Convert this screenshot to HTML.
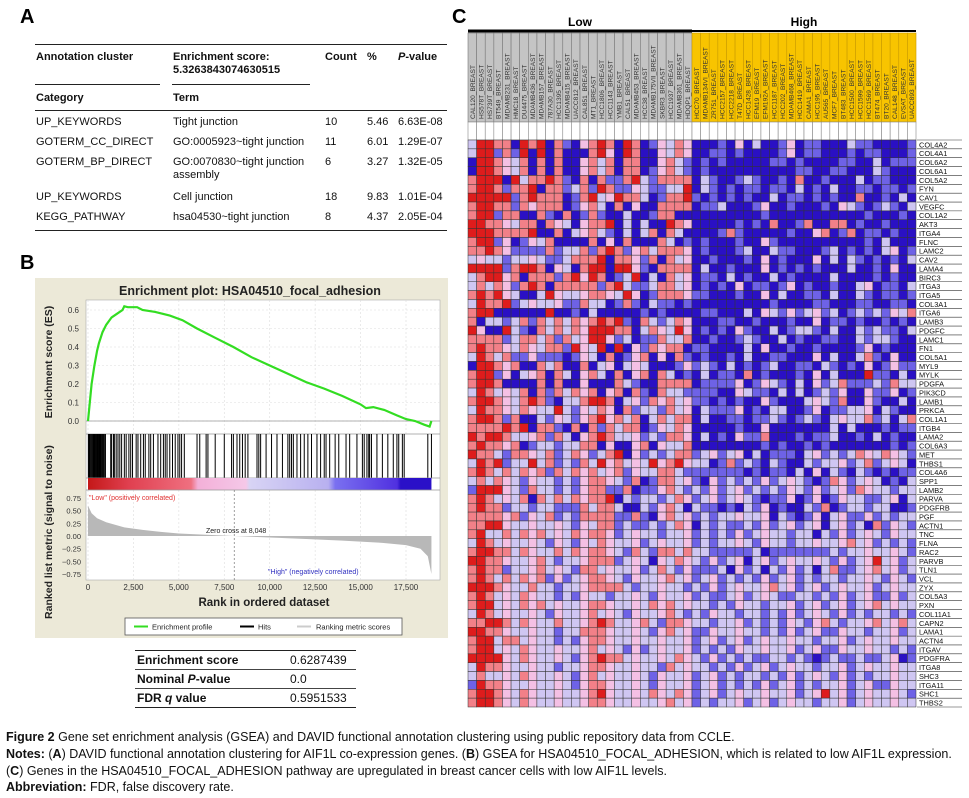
<!DOCTYPE html>
<html><head><meta charset="utf-8">
<style>
body{margin:0;width:969px;height:798px;background:#fff;font-family:"Liberation Sans",Arial,sans-serif;position:relative;overflow:hidden}
.abs{position:absolute}
.pl{font-weight:bold;font-size:20px}
.ta{font-size:11px;color:#111}
.cap{font-size:12.5px;font-family:"Liberation Sans",sans-serif;color:#111;left:6px;white-space:nowrap}
</style></head><body>
<div class="abs pl" style="left:20px;top:6px">A</div>
<div class="abs pl" style="left:20px;top:252px">B</div>
<div class="abs pl" style="left:452px;top:6px">C</div>

<!-- Panel A table -->
<div>
<div class="abs" style="left:35px;top:44px;width:412px;height:1px;background:#222"></div>
<div class="abs ta" style="left:36px;top:51px;font-weight:bold">Annotation cluster</div>
<div class="abs ta" style="left:173px;top:51px;font-weight:bold;line-height:13px">Enrichment score:<br>5.3263843074630515</div>
<div class="abs ta" style="left:325px;top:51px;font-weight:bold">Count</div>
<div class="abs ta" style="left:367px;top:51px;font-weight:bold">%</div>
<div class="abs ta" style="left:398px;top:51px;font-weight:bold"><i>P</i>-value</div>
<div class="abs" style="left:35px;top:84px;width:125px;height:1px;background:#222"></div>
<div class="abs" style="left:172px;top:84px;width:138px;height:1px;background:#222"></div>
<div class="abs ta" style="left:36px;top:92px;font-weight:bold">Category</div>
<div class="abs ta" style="left:173px;top:92px;font-weight:bold">Term</div>
<div class="abs" style="left:35px;top:110px;width:412px;height:1px;background:#222"></div>
<div class="abs ta" style="left:36px;top:116px">UP_KEYWORDS</div><div class="abs ta" style="left:173px;top:116px">Tight junction</div><div class="abs ta" style="left:325px;top:116px">10</div><div class="abs ta" style="left:367px;top:116px">5.46</div><div class="abs ta" style="left:398px;top:116px">6.63E-08</div>
<div class="abs ta" style="left:36px;top:136px">GOTERM_CC_DIRECT</div><div class="abs ta" style="left:173px;top:136px">GO:0005923~tight junction</div><div class="abs ta" style="left:325px;top:136px">11</div><div class="abs ta" style="left:367px;top:136px">6.01</div><div class="abs ta" style="left:398px;top:136px">1.29E-07</div>
<div class="abs ta" style="left:36px;top:156px">GOTERM_BP_DIRECT</div><div class="abs ta" style="left:173px;top:156px;line-height:13px">GO:0070830~tight junction<br>assembly</div><div class="abs ta" style="left:325px;top:156px">6</div><div class="abs ta" style="left:367px;top:156px">3.27</div><div class="abs ta" style="left:398px;top:156px">1.32E-05</div>
<div class="abs ta" style="left:36px;top:191px">UP_KEYWORDS</div><div class="abs ta" style="left:173px;top:191px">Cell junction</div><div class="abs ta" style="left:325px;top:191px">18</div><div class="abs ta" style="left:367px;top:191px">9.83</div><div class="abs ta" style="left:398px;top:191px">1.01E-04</div>
<div class="abs ta" style="left:36px;top:211px">KEGG_PATHWAY</div><div class="abs ta" style="left:173px;top:211px">hsa04530~tight junction</div><div class="abs ta" style="left:325px;top:211px">8</div><div class="abs ta" style="left:367px;top:211px">4.37</div><div class="abs ta" style="left:398px;top:211px">2.05E-04</div>
<div class="abs" style="left:35px;top:230px;width:412px;height:1px;background:#222"></div>
</div>

<!-- Panel B GSEA -->
<svg class="abs" style="left:0;top:0" width="460" height="640" id="gsea"></svg>

<!-- stats table -->
<div>
<div class="abs" style="left:135px;top:650px;width:221px;height:1px;background:#222"></div>
<div class="abs ta" style="left:137px;top:653px;font-weight:bold;font-size:12px">Enrichment score</div><div class="abs ta" style="left:290px;top:653px;font-size:12px">0.6287439</div>
<div class="abs" style="left:135px;top:669px;width:221px;height:1px;background:#444"></div>
<div class="abs ta" style="left:137px;top:672px;font-weight:bold;font-size:12px">Nominal <i>P</i>-value</div><div class="abs ta" style="left:290px;top:672px;font-size:12px">0.0</div>
<div class="abs" style="left:135px;top:688px;width:221px;height:1px;background:#444"></div>
<div class="abs ta" style="left:137px;top:691px;font-weight:bold;font-size:12px">FDR <i>q</i> value</div><div class="abs ta" style="left:290px;top:691px;font-size:12px">0.5951533</div>
<div class="abs" style="left:135px;top:707px;width:221px;height:1px;background:#222"></div>
</div>

<!-- Panel C heatmap -->
<svg class="abs" style="left:0;top:0" width="969" height="720" id="hm"></svg>

<div>
<div class="abs cap" style="top:730px"><b>Figure 2</b> Gene set enrichment analysis (GSEA) and DAVID functional annotation clustering using public repository data from CCLE.</div>
<div class="abs cap" style="top:747px"><b>Notes:</b> (<b>A</b>) DAVID functional annotation clustering for AIF1L co-expression genes. (<b>B</b>) GSEA for HSA04510_FOCAL_ADHESION, which is related to low AIF1L expression.</div>
<div class="abs cap" style="top:764px">(<b>C</b>) Genes in the HSA04510_FOCAL_ADHESION pathway are upregulated in breast cancer cells with low AIF1L levels.</div>
<div class="abs cap" style="top:780px"><b>Abbreviation:</b> FDR, false discovery rate.</div>
</div>

<script>
// ---------- GSEA data ----------
const esRanks=[0,100,200,350,500,600,800,1000,1300,1600,1900,2000,2200,2700,3000,3700,4500,5200,6000,7000,8000,9000,10000,11000,12000,13000,14000,15000,15300,15700,16300,17000,17500,18000,18500,18800,18900];
const esValues=[0,0.1,0.2,0.3,0.38,0.42,0.48,0.52,0.56,0.58,0.6,0.62,0.615,0.615,0.6,0.59,0.57,0.545,0.5,0.45,0.4,0.345,0.3,0.255,0.21,0.175,0.135,0.09,0.07,0.075,0.06,0.03,0.01,0.0,-0.02,-0.03,0.0];
const metricRanks=[0,200,500,1000,2000,3000,4000,5000,6500,8048,10000,12000,14000,16000,17500,18300,18700,18900];
const metricValues=[0.6,0.45,0.35,0.27,0.17,0.12,0.08,0.05,0.025,0,-0.03,-0.06,-0.09,-0.13,-0.18,-0.25,-0.4,-0.75];
const hitRanks=[20,60,100,150,200,230,280,330,380,420,460,500,540,580,620,660,700,740,800,850,900,960,1250,1300,1400,1450,1550,1650,1750,1850,2000,2100,2250,2350,2450,2650,2750,2900,3050,3150,3350,3450,3600,3850,4000,4150,4250,4350,4500,4650,4800,4950,5050,5150,5300,6000,6150,6500,6600,7000,7500,7900,8000,8200,8350,8500,8650,8800,9300,9400,9500,9800,10100,10400,10700,11000,11100,11200,11300,11500,11700,11900,12100,12300,12600,12800,13000,13100,13300,13600,13800,14200,14400,14800,15100,15200,15350,15450,15500,15600,15900,16200,16500,16800,17000,17100,17300,17400,18700,18900];
const esTicks=[0,0.1,0.2,0.3,0.4,0.5,0.6];
const metricTicks=[0.75,0.5,0.25,0,-0.25,-0.5,-0.75];
const metricTickLabels=["0.75","0.50","0.25","0.00","\u22120.25","\u22120.50","\u22120.75"];
const rankTicks=[0,2500,5000,7500,10000,12500,15000,17500];
const rankTickLabels=["0","2,500","5,000","7,500","10,000","12,500","15,000","17,500"];

const NS="http://www.w3.org/2000/svg";
function mk(p,tag,attrs,txt){const e=document.createElementNS(NS,tag);for(const k in attrs)e.setAttribute(k,attrs[k]);if(txt!=null)e.textContent=txt;p.appendChild(e);return e;}
const g=document.getElementById('gsea');
const X=r=>88+r*(406-88)/17500;
const YES=v=>421-v*185;
const YM=v=>536-v*50.7;
let e;
e=mk(g,'rect',{x:35,y:278,width:413,height:360,fill:'#ece9d8'});


e=mk(g,'text',{x:250,y:295,'text-anchor':'middle','font-size':12.5,'font-weight':'bold',fill:'#222'},'Enrichment plot: HSA04510_focal_adhesion');


mk(g,'rect',{x:86,y:300,width:354,height:280,fill:'#fff',stroke:'#aaa','stroke-width':0.6});
for(const t of esTicks){mk(g,'line',{x1:86,x2:440,y1:YES(t),y2:YES(t),stroke:'#ddd','stroke-dasharray':'2,2','stroke-width':0.6});
 e=mk(g,'text',{x:79,y:YES(t)+3,'text-anchor':'end','font-size':8,fill:'#333'},t.toFixed(1));
 
 }
for(const t of rankTicks){mk(g,'line',{x1:X(t),x2:X(t),y1:300,y2:434,stroke:'#ddd','stroke-dasharray':'2,2','stroke-width':0.6});mk(g,'line',{x1:X(t),x2:X(t),y1:490,y2:580,stroke:'#ddd','stroke-dasharray':'2,2','stroke-width':0.6});}
mk(g,'line',{x1:86,x2:440,y1:YES(0),y2:YES(0),stroke:'#999','stroke-width':0.8});
mk(g,'line',{x1:86,x2:440,y1:434,y2:434,stroke:'#999','stroke-width':0.8});
e=mk(g,'path',{d:esRanks.map((r,i)=>(i?'L':'M')+X(r).toFixed(1)+','+YES(esValues[i]).toFixed(1)).join(''),fill:'none',stroke:'#33dd22','stroke-width':2.2});


for(const h of hitRanks){e=mk(g,'line',{x1:X(h),x2:X(h),y1:434,y2:478,stroke:'#000','stroke-width':1});
 
 }
mk(g,'line',{x1:86,x2:440,y1:478,y2:478,stroke:'#999','stroke-width':0.8});
const defs=mk(g,'defs',{});
const lg=mk(defs,'linearGradient',{id:'cb',x1:0,x2:1,y1:0,y2:0});
[[0,'#c41818'],[0.12,'#e04050'],[0.3,'#ef7080'],[0.32,'#f3b0d8'],[0.46,'#f5c8e8'],[0.47,'#d8d4f4'],[0.7,'#b8b0f0'],[0.72,'#7a70f0'],[0.9,'#5030e0'],[0.91,'#2a10c8'],[1,'#2a10c8']].forEach(s=>mk(lg,'stop',{offset:s[0],'stop-color':s[1]}));
e=mk(g,'rect',{x:X(0),y:478,width:X(18900)-X(0),height:12,fill:'url(#cb)'});


mk(g,'line',{x1:86,x2:440,y1:490,y2:490,stroke:'#999','stroke-width':0.8});
let d='M'+X(0)+','+YM(0);metricRanks.forEach((r,i)=>d+='L'+X(r).toFixed(1)+','+YM(metricValues[i]).toFixed(1));d+='L'+X(18900)+','+YM(0)+'Z';
e=mk(g,'path',{d:d,fill:'#b8b8b8'});


mk(g,'line',{x1:X(8048),x2:X(8048),y1:490,y2:580,stroke:'#777','stroke-dasharray':'2,2','stroke-width':0.7});
for(let i=0;i<metricTicks.length;i++){e=mk(g,'text',{x:81,y:YM(metricTicks[i])+3,'text-anchor':'end','font-size':7.5,fill:'#333'},metricTickLabels[i]);
 
 }
for(let i=0;i<rankTicks.length;i++){e=mk(g,'text',{x:X(rankTicks[i]),y:590,'text-anchor':'middle','font-size':8,fill:'#333'},rankTickLabels[i]);
 
 }
mk(g,'text',{x:89,y:500,'font-size':7,fill:'#e03030'},'"Low" (positively correlated)');
mk(g,'text',{x:206,y:533,'font-size':7,fill:'#222'},'Zero cross at 8,048');
mk(g,'text',{x:268,y:574,'font-size':7,fill:'#3030c0'},'"High" (negatively correlated)');
e=mk(g,'text',{x:264,y:606,'text-anchor':'middle','font-size':11.5,'font-weight':'bold',fill:'#222'},'Rank in ordered dataset');


e=mk(g,'text',{transform:'translate(52,362) rotate(-90)','text-anchor':'middle','font-size':10.5,'font-weight':'bold',fill:'#222'},'Enrichment score (ES)');


e=mk(g,'text',{transform:'translate(52,532) rotate(-90)','text-anchor':'middle','font-size':10.5,'font-weight':'bold',fill:'#222'},'Ranked list metric (signal to noise)');


e=mk(g,'rect',{x:125,y:618,width:277,height:17,fill:'#fff',stroke:'#555','stroke-width':0.8});


mk(g,'line',{x1:134,x2:148,y1:626.5,y2:626.5,stroke:'#33dd22','stroke-width':2});
mk(g,'text',{x:152,y:629.5,'font-size':7.5,fill:'#222'},'Enrichment profile');
mk(g,'line',{x1:240,x2:254,y1:626.5,y2:626.5,stroke:'#000','stroke-width':2});
mk(g,'text',{x:258,y:629.5,'font-size':7.5,fill:'#222'},'Hits');
mk(g,'line',{x1:297,x2:311,y1:626.5,y2:626.5,stroke:'#ccc','stroke-width':2});
mk(g,'text',{x:316,y:629.5,'font-size':7.5,fill:'#222'},'Ranking metric scores');

// ---------- Heatmap data ----------
const lowSamples=["CAL120_BREAST","HS578T_BREAST","HS739T_BREAST","BT549_BREAST","MDAMB231_BREAST","HMC18_BREAST","DU4475_BREAST","MDAMB436_BREAST","MDAMB157_BREAST","787A30_BREAST","HCC1395_BREAST","MDAMB415_BREAST","UACC812_BREAST","CAL851_BREAST","MT1_BREAST","HCC1806_BREAST","HCC1143_BREAST","YMB1_BREAST","CAL51_BREAST","MDAMB453_BREAST","HCC38_BREAST","MDAMB175VII_BREAST","SKBR3_BREAST","HCC1937_BREAST","MDAMB361_BREAST","HDQP1_BREAST"];
const highSamples=["HCC70_BREAST","MDAMB134VI_BREAST","ZR751_BREAST","HCC2157_BREAST","HCC2218_BREAST","T47D_BREAST","HCC1428_BREAST","EFM19_BREAST","EFM192A_BREAST","HCC1187_BREAST","HCC202_BREAST","MDAMB468_BREAST","HCC1419_BREAST","CAMA1_BREAST","HCC195_BREAST","AU565_BREAST","MCF7_BREAST","BT483_BREAST","HCC1500_BREAST","HCC1599_BREAST","HCC1569_BREAST","BT474_BREAST","BT20_BREAST","CAL148_BREAST","EVSAT_BREAST","UACC893_BREAST"];
const genes=["COL4A2","COL4A1","COL6A2","COL6A1","COL5A2","FYN","CAV1","VEGFC","COL1A2","AKT3","ITGA4","FLNC","LAMC2","CAV2","LAMA4","BIRC3","ITGA3","ITGA5","COL3A1","ITGA6","LAMB3","PDGFC","LAMC1","FN1","COL5A1","MYL9","MYLK","PDGFA","PIK3CD","LAMB1","PRKCA","COL1A1","ITGB4","LAMA2","COL6A3","MET","THBS1","COL4A6","SPP1","LAMB2","PARVA","PDGFRB","PGF","ACTN1","TNC","FLNA","RAC2","PARVB","TLN1","VCL","ZYX","COL5A3","PXN","COL11A1","CAPN2","LAMA1","ACTN4","ITGAV","PDGFRA","ITGA8","SHC3","ITGA11","SHC1","THBS2"];
const expr=[
"24433043403102343043012232"+"00010202001201100021100001",
"24413140403000342043002232"+"00110100001201100010110001",
"04432230303002323033002321"+"01010000011010000110020111",
"04432230303002323033012321"+"01000000000011001100021000",
"34440423343103031134213333"+"02100121001030010002011000",
"34431334033123143112211224"+"02101011011020102001101101",
"44444134333013422433201334"+"10101010020110101003001020",
"34433132333012320302003333"+"01120001200100010221012102",
"34413300310301310020013300"+"00000000100000000000100010",
"44332233032202334020200432"+"00000101030013003301001000",
"44433334003022321020230320"+"00013100000100230130110100",
"34412012230000302030003201"+"01000100210000000000102000",
"33432111131223134312323332"+"01000120021100012010102201",
"22221222211233340332130322"+"00100010201000202021010102",
"44441344302203440442103333"+"02001000201010100020010200",
"23442303331342430124020322"+"01102010020100002000010100",
"23232134303333313421123322"+"01010201101201001002201102",
"34342200242222332242013332"+"11000100202001102002101101",
"24334122222113220131021101"+"00000000010000110001100110",
"34400000040010200000101000"+"01100020221212212012121223",
"30221231323232343410321232"+"00011001000100201101001010",
"42004210323232444330232242"+"01010210020122102002121102",
"33331233231322442120113223"+"00100121002010011002122100",
"34332232233142240402132330"+"11000020200100100001201000",
"24323112111012203012302031"+"01001020011000202002310200",
"04432300323003022022200012"+"12102010120011021010201211",
"34412022303202320302303201"+"02011030100010202000411020",
"34430000303002000321003333"+"01111201221020212311121322",
"24322230313232302303103221"+"11100221102020121200211201",
"34432234310223443022132322"+"11010100210002221300210020",
"24332232224212232031221322"+"02111201022001201122202100",
"34431300212212342323023233"+"02001101121012102222312023",
"33334340331030313233012232"+"00000100200000002020001011",
"43443222313202343222121332"+"02010211300010112001020100",
"34332301221223302002302223"+"00000000101001010000000101",
"43321332231232123402121233"+"12212202011102212123223221",
"24341224231213242322242342"+"22013121021002122212312220",
"34323232313232322312223321"+"11111101011020202102101011",
"23232212221212332213013322"+"10212121212221013212220102",
"14442213221212331130112321"+"21212212121221212213222122",
"34322230323232334021221232"+"12212221011201201222112202",
"34331221221113233200212320"+"21101021201002130122122001",
"33332312231213333113102322"+"12122222202101202211212122",
"33442222222212233121121232"+"02121121212212202212031221",
"34223232322232332122221222"+"12121212222122021212221222",
"24322222212212232222122222"+"12122221222122222232212121",
"34433232223232332213213323"+"22111112011111112122222221",
"44332222321222333122202232"+"21212202212222221212242212",
"34331222322213322222123212"+"11120212021212023112232212",
"34323232312122332212222322"+"12212121212212122122221221",
"44432223221222333321222221"+"21212222232212212222212222",
"34322232221212221222212222"+"12112212221122121212211212",
"34422232322222332222232322"+"22121222122212212212232222",
"24322222212222322212222321"+"21222122121212221212122121",
"33443232223222343222321332"+"22122212121221232122232232",
"44332222221223332222212322"+"11222222121212211222122212",
"34423322221212332222222222"+"12212212222222122212222222",
"34422232222222322212122222"+"12121222222212211222222121",
"44442232222212343322222232"+"21212121122121012112112201",
"24332222221222332222221322"+"22121212212222122212222222",
"23222232222212322222212222"+"12212122121212221212122222",
"14332222222212332222212222"+"12212121212212122212211222",
"34432232222222342222232232"+"12212222222212242212222221",
"34432232222222332222222322"+"12122212212222122212222222"
];
const palette=["#2a10c4","#6e62e6","#cfc6f2","#f28088","#de1c1c"];
const pinkAlt="#f4c0e4";
const hm=document.getElementById('hm');
const samples=lowSamples.concat(highSamples);
const x0=468,y0=140,cw=(916-468)/samples.length,rh=(707-140)/genes.length;
mk(hm,'line',{x1:x0,x2:x0+lowSamples.length*cw,y1:31,y2:31,stroke:'#000','stroke-width':3});
mk(hm,'line',{x1:x0+lowSamples.length*cw,x2:916,y1:31,y2:31,stroke:'#000','stroke-width':2});
e=mk(hm,'text',{x:x0+lowSamples.length*cw/2,y:26,'text-anchor':'middle','font-size':12,'font-weight':'bold'},'Low');


e=mk(hm,'text',{x:x0+lowSamples.length*cw+highSamples.length*cw/2,y:26,'text-anchor':'middle','font-size':12,'font-weight':'bold'},'High');


samples.forEach((s,i)=>{
  const low=i<lowSamples.length;
  const x=x0+i*cw;
  mk(hm,'rect',{x:x,y:33,width:cw,height:89,fill:low?'#c4c4c4':'#f8c400',stroke:low?'#777':'#c89a00','stroke-width':0.6});
  mk(hm,'rect',{x:x,y:122,width:cw,height:18,fill:'#fff',stroke:'#888','stroke-width':0.6});
  const t=mk(hm,'text',{transform:`translate(${x+cw/2+2.5},119) rotate(-90)`,'font-size':6.6,fill:'#333'},s);
  
  
});
genes.forEach((gname,r)=>{
  const row=expr[r];
  for(let c=0;c<samples.length;c++){
    const v=+row[c];
    let fill=palette[v];
    if(v===2&&c%3===1)fill=pinkAlt;
    const cell=mk(hm,'rect',{x:x0+c*cw,y:y0+r*rh,width:cw,height:rh,fill:fill,stroke:'#333','stroke-width':0.5});
    
    
  }
  mk(hm,'line',{x1:917,x2:962,y1:y0+r*rh+rh,y2:y0+r*rh+rh,stroke:'#333','stroke-width':0.6});
  const t=mk(hm,'text',{x:919,y:y0+r*rh+rh-1.5,'font-size':7.4,fill:'#111'},gname);
  
  
});
mk(hm,'line',{x1:917,x2:962,y1:y0,y2:y0,stroke:'#333','stroke-width':0.6});
</script>
</body></html>
